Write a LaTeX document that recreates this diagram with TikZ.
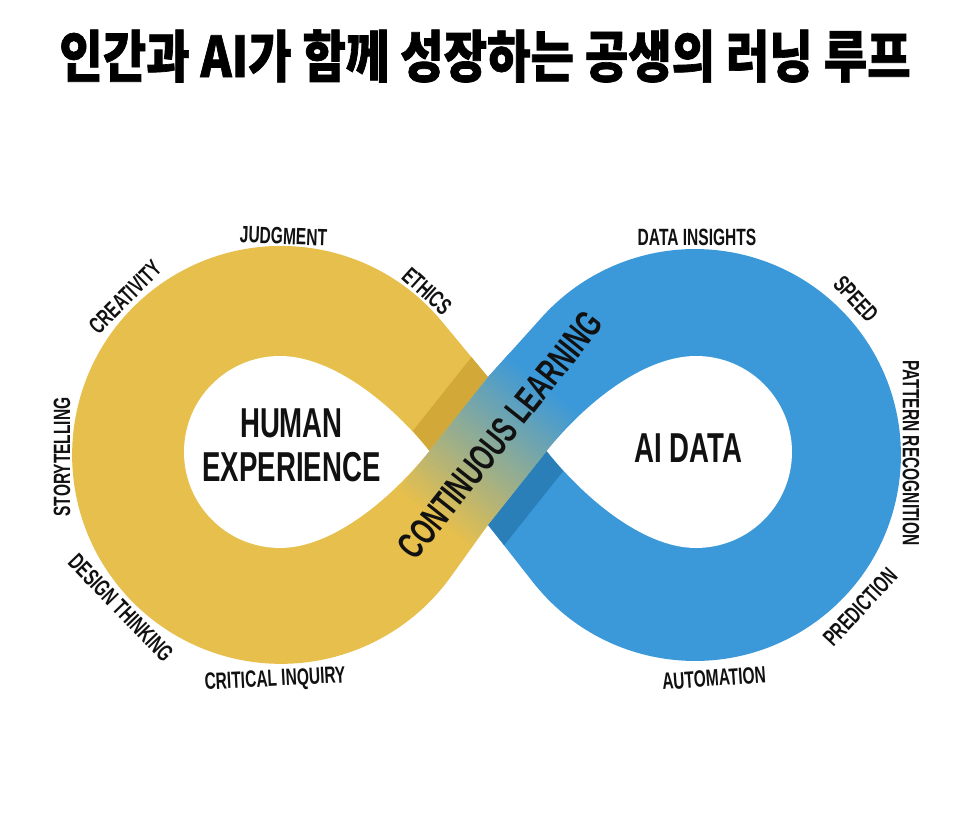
\documentclass[tikz,border=0pt]{standalone}
\usepackage{fontspec}
\newfontfamily\cond{Liberation Sans}[FakeStretch=0.66]
\newfontfamily\kr{Noto Sans CJK KR}[FakeStretch=0.84,FakeBold=1.2]
\definecolor{Yl}{RGB}{231,191,76}
\definecolor{YlD}{RGB}{210,168,56}
\definecolor{Bl}{RGB}{59,153,218}
\definecolor{BlD}{RGB}{43,127,184}
\definecolor{Ink}{RGB}{17,17,17}
\tikzset{
  lab/.style={font=\cond\bfseries\fontsize{13.4}{14}\selectfont, text=Ink, inner sep=0pt, text depth=0pt},
  big/.style={font=\cond\bfseries\fontsize{23.8}{25}\selectfont, text=Ink, inner sep=0pt, align=center, text depth=0pt},
  band/.style={font=\cond\bfseries\fontsize{21.4}{22}\selectfont, text=Ink, inner sep=0pt, text depth=0pt},
  ttl/.style={font=\kr\bfseries\fontsize{32}{34}\selectfont, text=black, inner sep=0pt}
}
\begin{document}
\begin{tikzpicture}[x=0.02cm,y=0.02cm]
\useasboundingbox (0,0) rectangle (966,819);
\fill[white] (0,0) rectangle (966,819);
% key points
\coordinate (Xc) at (488,368);
\coordinate (Nt) at (488,441.9);
\coordinate (Nb) at (488,294.1);
\coordinate (Lt) at (429.2,368);
\coordinate (Rt) at (546.8,368);
\coordinate (PtL) at (441.8,497.6);
\coordinate (PbR) at (532.9,236.9);
% yellow loop
\fill[Yl] (Xc) -- (Nt) -- (PtL) arc[start angle=39.71, end angle=324.37, radius=4.18cm] -- (Nb) -- cycle;
% blue loop
\fill[Bl] (Xc) -- (Nb) -- (PbR) arc[start angle=218.11, end angle=498.05, radius=4.12cm] -- (Nt) -- cycle;
\begin{scope}
  \clip (Nt) -- (PtL) arc[start angle=39.71, end angle=324.37, radius=4.18cm] -- (Nb) -- (PbR) arc[start angle=218.11, end angle=498.05, radius=4.12cm] -- cycle;
  % shadow strips on the lower band
  \fill[YlD] (Lt) -- (Nt) -- (471.8,462.2) -- (413,388.3) -- cycle;
  \fill[BlD] (Rt) -- (Nb) -- (504.2,273.8) -- (563,347.7) -- cycle;
  % gradient band on top
  \begin{scope}[shift={(488,368)}, rotate=51.5]
    \foreach \i in {0,...,35}{
      \pgfmathtruncatemacro\p{round(\i*100/35)}
      \pgfmathsetmacro\ta{-90+5*\i}
      \pgfmathsetmacro\tb{-90+5*\i+5.6}
      \fill[Bl!\p!Yl] (\ta,-46) rectangle (\tb,46);
    }
  \end{scope}
\end{scope}
% holes
\fill[white] (Lt) .. controls (393.7,412.6) and (334,463) .. (280,463)
  arc[start angle=90, end angle=270, radius=1.92cm]
  .. controls (334,271) and (393.7,323.4) .. (Lt) -- cycle;
\fill[white] (Rt) .. controls (582.3,412.6) and (642,463) .. (696,463)
  arc[start angle=90, end angle=-90, radius=1.92cm]
  .. controls (642,271) and (582.3,323.4) .. (Rt) -- cycle;
% title
\node[ttl] (title) at (485,763) {인간과 AI가 함께 성장하는 공생의 러닝 루프};
% centre labels
\node[big] (human) at (291.5,374) {HUMAN\\EXPERIENCE};
\node[big] (aidata) at (688.5,371) {AI DATA};
\node[band, rotate=51.5] (cont) at (500,384) {CONTINUOUS LEARNING};
% left loop labels
\node[lab, rotate=-2] (judg) at (283.5,583) {JUDGMENT};
\node[lab, rotate=45] (crea) at (125,522) {CREATIVITY};
\node[lab, rotate=-42] (eth) at (427,528) {ETHICS};
\node[lab, rotate=90] (story) at (62,362) {STORYTELLING};
\node[lab, rotate=-46] (design) at (121,211) {DESIGN THINKING};
\node[lab, rotate=3] (crit) at (275,141) {CRITICAL INQUIRY};
% right loop labels
\node[lab] (datains) at (697,582) {DATA INSIGHTS};
\node[lab, rotate=-47] (speed) at (856,520) {SPEED};
\node[lab, rotate=-90] (pattern) at (911,366) {PATTERN RECOGNITION};
\node[lab, rotate=47] (pred) at (860,212) {PREDICTION};
\node[lab, rotate=4] (auto) at (714,141) {AUTOMATION};
\end{tikzpicture}
\end{document}
